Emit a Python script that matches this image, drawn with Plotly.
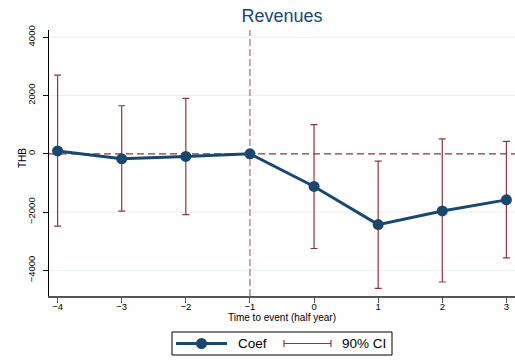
import plotly.graph_objects as go

# ---- data ----
periods = [-4, -3, -2, -1, 0, 1, 2, 3]
coef = [100, -170, -90, 0, -1120, -2430, -1960, -1580]
ci_hi = [2700, 1650, 1900, None, 1000, -250, 510, 430]
ci_lo = [-2480, -1970, -2090, None, -3250, -4620, -4400, -3570]
x_ticks = [-4, -3, -2, -1, 0, 1, 2, 3]
y_ticks = [-4000, -2000, 0, 2000, 4000]
title_text = "Revenues"
x_title = "Time to event (half year)"
y_title = "THB"
legend_labels = ["Coef", "90% CI"]

NAVY = "#1a476f"
MAROON = "#90353b"
FONT = "Liberation Sans, Arial, sans-serif"

W, H = 515, 360
ML, MR, MT, MB = 49, 0, 30, 64

# CI trace (only points with a CI)
ci_x = [p for p, h in zip(periods, ci_hi) if h is not None]
ci_c = [c for c, h in zip(coef, ci_hi) if h is not None]
ci_up = [h - c for c, h in zip(coef, ci_hi) if h is not None]
ci_dn = [c - l for c, l in zip(coef, ci_lo) if l is not None]

fig = go.Figure()
fig.add_trace(go.Scatter(
    x=ci_x, y=ci_c, mode="markers",
    marker=dict(size=1, color="rgba(0,0,0,0)"),
    error_y=dict(type="data", symmetric=False, array=ci_up, arrayminus=ci_dn,
                 color=MAROON, thickness=1.2, width=3.5),
    showlegend=False, hoverinfo="skip"))
fig.add_trace(go.Scatter(
    x=periods, y=coef, mode="lines+markers",
    line=dict(color=NAVY, width=3),
    marker=dict(color=NAVY, size=11),
    showlegend=False))

# gridlines (as shapes, so the zero reference line stays on top of them)
for v in y_ticks:
    if v != 0:
        fig.add_hline(y=v, line=dict(color="#e8f0f2", width=1), layer="below")

# reference lines
fig.add_hline(y=0, line=dict(color=MAROON, width=1.2, dash="7px,4px"), layer="below")
fig.add_vline(x=-1, line=dict(color="#c0858a", width=1.5, dash="7px,3px"), layer="below")

# ---- custom legend (pixel helpers) ----
pw = W - ML - MR
ph = H - MT - MB
def px(X):
    return (X - ML) / pw
def py(Y):
    return (H - MB - Y) / ph

shapes = []
shapes.append(dict(type="rect", xref="paper", yref="paper",
                   x0=px(172), x1=px(392), y0=py(355), y1=py(332),
                   line=dict(color="black", width=1), fillcolor="white"))
ly = py(343.5)
shapes.append(dict(type="line", xref="paper", yref="paper",
                   x0=px(176), x1=px(227), y0=ly, y1=ly,
                   line=dict(color=NAVY, width=3)))
shapes.append(dict(type="circle", xref="paper", yref="paper",
                   xsizemode="pixel", ysizemode="pixel",
                   xanchor=px(201.5), yanchor=ly, x0=-5.5, x1=5.5, y0=-5.5, y1=5.5,
                   fillcolor=NAVY, line=dict(color=NAVY, width=0)))
shapes.append(dict(type="line", xref="paper", yref="paper",
                   x0=px(284), x1=px(331), y0=ly, y1=ly,
                   line=dict(color=MAROON, width=1.2)))
for xx in (284, 331):
    shapes.append(dict(type="line", xref="paper", yref="paper",
                       x0=px(xx), x1=px(xx), y0=py(340), y1=py(347),
                       line=dict(color=MAROON, width=1.2)))
for s in shapes:
    fig.add_shape(**s)

fig.add_annotation(x=px(236), y=ly, xref="paper", yref="paper", text=legend_labels[0],
                   showarrow=False, xanchor="left", yanchor="middle",
                   font=dict(family=FONT, size=13.5, color="black"))
fig.add_annotation(x=px(340), y=ly, xref="paper", yref="paper", text=legend_labels[1],
                   showarrow=False, xanchor="left", yanchor="middle",
                   font=dict(family=FONT, size=13.5, color="black"))
# y-axis title
fig.add_annotation(x=px(22), y=py(158), xref="paper", yref="paper", text=y_title,
                   showarrow=False, xanchor="center", yanchor="middle", textangle=-90,
                   font=dict(family=FONT, size=10, color="black"))

fig.update_layout(
    width=W, height=H,
    margin=dict(l=ML, r=MR, t=MT, b=MB, autoexpand=False),
    paper_bgcolor="white", plot_bgcolor="white",
    font=dict(family=FONT, color="black"),
    title=dict(text=title_text, x=0.5, xref="paper", y=1 - 16 / H, yref="container",
               yanchor="middle", xanchor="center",
               font=dict(family=FONT, size=18, color=NAVY)),
    showlegend=False,
)
fig.update_xaxes(
    range=[-4.134, 3.134], tickvals=x_ticks, showgrid=False, zeroline=False,
    showline=True, linecolor="#555555", linewidth=1.5,
    ticks="outside", ticklen=5, tickcolor="#555555",
    tickfont=dict(size=9.5, family=FONT), ticklabelstandoff=-4,
    title=dict(text=x_title, font=dict(size=10, family=FONT), standoff=2),
)
fig.update_yaxes(
    range=[-4880, 4250], tickvals=y_ticks, showgrid=False,
    zeroline=False, showline=True, linecolor="black", linewidth=1,
    ticks="outside", ticklen=5, tickcolor="black", tickangle=-90,
    tickfont=dict(size=9.5, family=FONT), ticklabelstandoff=4,
)

fig.write_html("out.html", config={"displayModeBar": False},
               post_script="document.body.style.margin='0';document.body.style.overflow='hidden';")
